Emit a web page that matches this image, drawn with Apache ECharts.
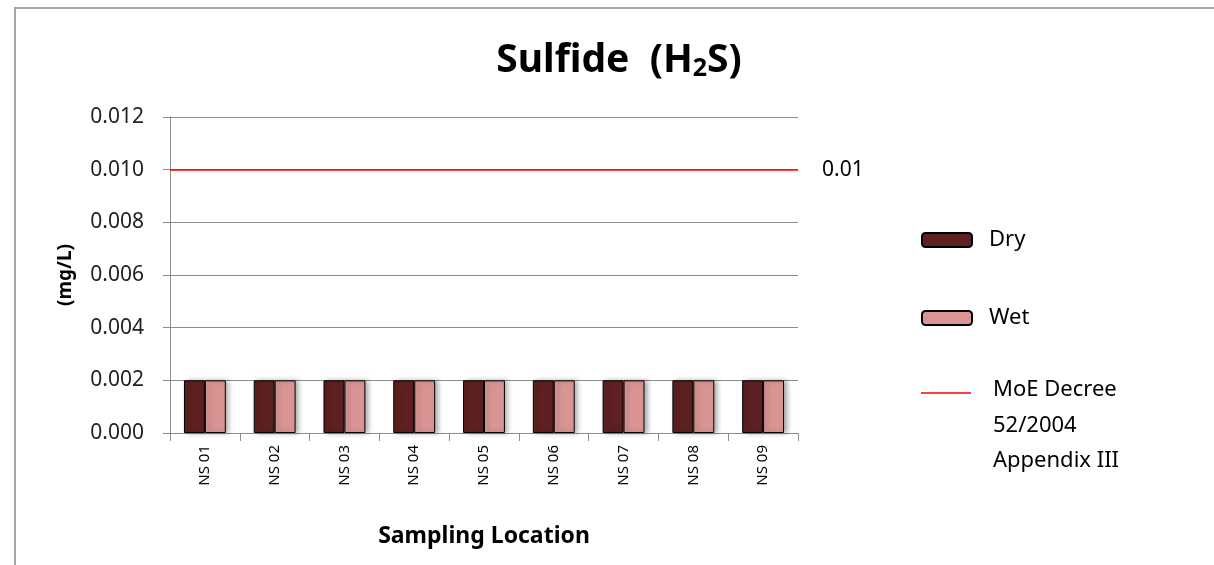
<!DOCTYPE html>
<html>
<head>
<meta charset="utf-8">
<script src="https://cdn.jsdelivr.net/npm/echarts@6/dist/echarts.min.js"></script>
<style>html,body{margin:0;padding:0;background:#fff;}#c{width:1214px;height:565px;}</style>
</head>
<body>
<div id="c"></div>
<script>
const categories = ['NS 01','NS 02','NS 03','NS 04','NS 05','NS 06','NS 07','NS 08','NS 09'];
const dryValues = [0.002,0.002,0.002,0.002,0.002,0.002,0.002,0.002,0.002];
const wetValues = [0.002,0.002,0.002,0.002,0.002,0.002,0.002,0.002,0.002];
const limitValue = 0.01;
const limitLabel = '0.01';
const yTicks = { min: 0, max: 0.012, interval: 0.002 };
const seriesNames = ['Dry', 'Wet', 'MoE Decree\n52/2004\nAppendix III'];

const FONT = 'Noto Sans';
const chart = echarts.init(document.getElementById('c'), null, { renderer: 'canvas' });
const barShadow = { shadowColor: 'rgba(0,0,0,0.35)', shadowBlur: 5, shadowOffsetX: 3, shadowOffsetY: 0 };
chart.setOption({
  animation: false,
  backgroundColor: '#fff',
  textStyle: { fontFamily: FONT },
  graphic: [{
    type: 'rect', shape: { x: 15, y: 8, width: 1400, height: 800 },
    style: { fill: 'none', stroke: '#a6a6a6', lineWidth: 2 }, silent: true, z: -10
  }],
  title: {
    text: '{b|Sulfide  (H}{s|2}{b|S)}',
    left: 614, textAlign: 'center', top: 35,
    textStyle: {
      rich: {
        b: { fontFamily: FONT, fontSize: 39, fontWeight: 'bold', color: '#000' },
        s: { fontFamily: FONT, fontSize: 25, fontWeight: 'bold', color: '#000', verticalAlign: 'bottom', padding: [16, 0, 0, 0] }
      }
    }
  },
  legend: [{
    orient: 'vertical', left: 916, top: 224, itemWidth: 50, itemHeight: 14, itemGap: 56,
    data: [seriesNames[0], seriesNames[1]],
    textStyle: { fontFamily: FONT, fontSize: 22, color: '#000', padding: [0, 0, 0, 12] }
  }, {
    orient: 'vertical', left: 916, top: 367, itemWidth: 50, itemHeight: 74,
    data: [{ name: seriesNames[2], icon: 'path://M0,0L0.01,0L0,0.01Z M0,4L50,4L50,5.5L0,5.5Z M0,74L0.01,74L0,73.99Z' }],
    itemStyle: { color: '#ff0000', borderWidth: 0 },
    textStyle: { fontFamily: FONT, fontSize: 22, color: '#000', lineHeight: 35.5, padding: [0, 0, 0, 17] }
  }],
  grid: { left: 170, right: 416, top: 117, bottom: 132, containLabel: false },
  xAxis: {
    type: 'category', data: categories,
    name: 'Sampling Location', nameLocation: 'middle', nameGap: 92,
    nameTextStyle: { fontFamily: FONT, fontSize: 23, fontWeight: 'bold', color: '#000' },
    axisLine: { lineStyle: { color: '#8c8c8c', width: 1 } },
    axisTick: { show: true, length: 8, lineStyle: { color: '#8c8c8c' } },
    axisLabel: { rotate: 90, fontFamily: FONT, fontSize: 15, color: '#000', margin: 12 }
  },
  yAxis: {
    type: 'value', min: yTicks.min, max: yTicks.max, interval: yTicks.interval,
    name: '(mg/L)', nameLocation: 'middle', nameGap: 95,
    nameTextStyle: { fontFamily: FONT, fontSize: 19, fontWeight: 'bold', color: '#000' },
    axisLine: { show: true, lineStyle: { color: '#8c8c8c', width: 1 } },
    axisTick: { show: true, length: 7, lineStyle: { color: '#8c8c8c' } },
    axisLabel: { fontFamily: FONT, fontSize: 21, color: '#222', margin: 26, formatter: v => v.toFixed(3) },
    splitLine: { show: true, lineStyle: { color: '#8c8c8c', width: 1 } }
  },
  series: [{
    name: seriesNames[0], type: 'bar', data: dryValues, barGap: '0%', barCategoryGap: '40%',
    itemStyle: Object.assign({ color: '#5e2020', borderColor: '#000', borderWidth: 1 }, barShadow)
  }, {
    name: seriesNames[1], type: 'bar', data: wetValues,
    itemStyle: Object.assign({ color: '#d99594', borderColor: '#000', borderWidth: 1 }, barShadow)
  }, {
    name: seriesNames[2], type: 'line', data: [], symbol: 'none',
    itemStyle: { color: '#ff0000' },
    lineStyle: { color: '#ff0000', width: 1.5 },
    markLine: {
      silent: true, symbol: ['none', 'none'],
      lineStyle: { color: '#ff0000', width: 1.5, type: 'solid' },
      label: { show: true, position: 'end', distance: 24, formatter: limitLabel, fontFamily: FONT, fontSize: 21, color: '#000' },
      data: [{ yAxis: limitValue }]
    }
  }]
});
</script>
</body>
</html>
